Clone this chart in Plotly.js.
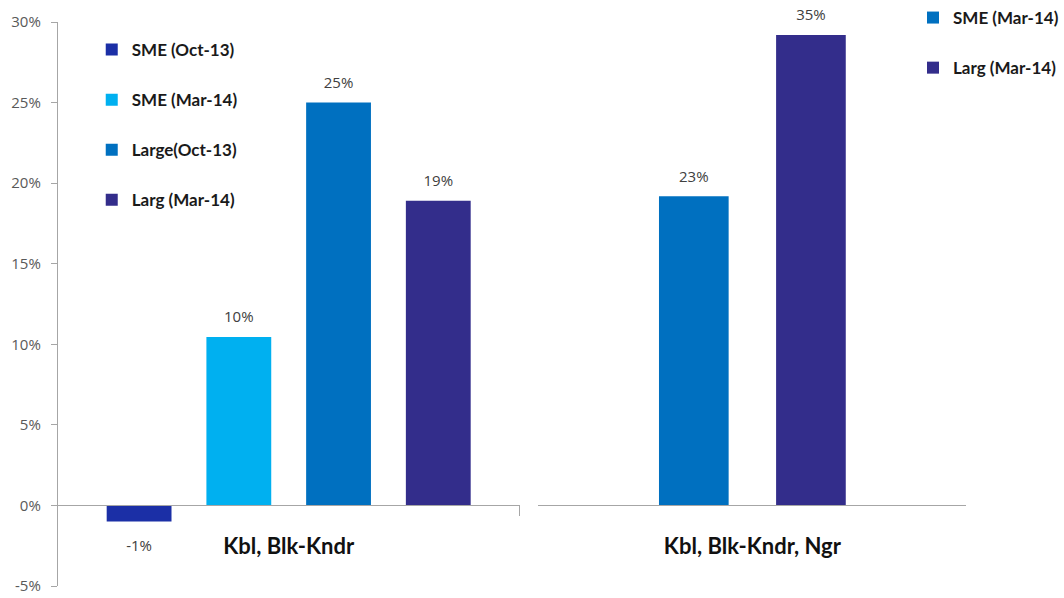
<!DOCTYPE html>
<html><head><meta charset="utf-8">
<script src="https://cdn.plot.ly/plotly-3.0.1.min.js"></script>
<style>html,body{margin:0;padding:0;background:#fff;overflow:hidden}#chart{width:1064px;height:598px;overflow:hidden}</style>
</head><body><div id="chart"></div>
<script>
const leftCategory = ['Kbl, Blk-Kndr'];
const leftSeries = ['SME (Oct-13)', 'SME (Mar-14)', 'Large(Oct-13)', 'Larg (Mar-14)'];
const leftValues = [-1, 10.45, 25, 18.9];
const leftLabels = ['-1%', '10%', '25%', '19%'];
const leftColors = ['#1b2fa6', '#00b0f0', '#0070c0', '#332d8b'];

const rightCategory = ['Kbl, Blk-Kndr, Ngr'];
const rightSeries = ['SME (Mar-14)', 'Larg (Mar-14)'];
const rightValues = [23, 35];
const rightLabels = ['23%', '35%'];
const rightColors = ['#0070c0', '#332d8b'];

const yTickVals = [-5, 0, 5, 10, 15, 20, 25, 30];
const yTickText = ['-5%', '0%', '5%', '10%', '15%', '20%', '25%', '30%'];

const W = 1064, H = 598;
const FONT = 'Lato, "Open Sans", sans-serif';
const NUMFONT = '"Open Sans", Lato, sans-serif';
const GRID = '#a6a6a6';
const labelFont = {family: NUMFONT, size: 15, color: '#404040'};

const traces = [];
function addPanel(cats, names, vals, labels, colors, xa, ya, lg, barWidth) {
  names.forEach((name, i) => {
    const t = {
      type: 'bar', name: name, x: cats, y: [vals[i]],
      marker: {color: colors[i]}, offsetgroup: lg + i,
      xaxis: xa, yaxis: ya, legend: lg, legendgroup: lg + i,
      hoverinfo: 'skip'
    };
    if (barWidth) t.width = barWidth;
    traces.push(t);
  });
  // value labels, grouped at the same slots as the bars
  names.forEach((name, i) => {
    const neg = vals[i] < 0;
    traces.push({
      type: 'scatter', mode: 'markers+text', x: cats, y: [vals[i]],
      text: [labels[i]], textposition: neg ? 'bottom center' : 'top center',
      textfont: labelFont, cliponaxis: false, offsetgroup: lg + i,
      marker: {size: neg ? 27 : 16, opacity: 0, color: colors[i]},
      xaxis: xa, yaxis: ya, showlegend: false, hoverinfo: 'skip'
    });
  });
}
addPanel(leftCategory, leftSeries, leftValues, leftLabels, leftColors, 'x', 'y', 'legend', null);
addPanel(rightCategory, rightSeries, rightValues, rightLabels, rightColors, 'x2', 'y2', 'legend2', 0.257);

// vertical layout (pixels from the top)
const yTop = 22, yBot = 586;
const leftRange = [-5, 30];
const zeroPx = yTop + (leftRange[1] / (leftRange[1] - leftRange[0])) * (yBot - yTop);
const rightTopPx = 35;                      // pixel where the right panel's 35 sits
const rScale = (zeroPx - rightTopPx) / 35;  // px per unit on the right panel
const rightRange = [-(yBot - zeroPx) / rScale, (zeroPx - yTop) / rScale];

const axisPos = (H - zeroPx) / H;
const yDom = [(H - yBot) / H, (H - yTop) / H];
const catFont = {family: FONT, size: 22, color: '#111', weight: 'bold'};
const legFont = {family: FONT, size: 17, color: '#1a1a1a', weight: 'bold'};

const layout = {
  width: W, height: H,
  margin: {l: 0, r: 0, t: 0, b: 0},
  paper_bgcolor: '#fff', plot_bgcolor: 'rgba(0,0,0,0)',
  barmode: 'group', bargap: 0.136, bargroupgap: 0.35,
  scattermode: 'group', scattergap: 0.136,
  showlegend: true,
  xaxis: {
    domain: [58 / W, 521 / W], anchor: 'free', position: axisPos,
    type: 'category', range: [-0.5, 0.5],
    showline: true, linecolor: GRID, linewidth: 1,
    ticks: 'outside', tickson: 'boundaries', ticklen: 10, tickcolor: GRID,
    tickfont: catFont, ticklabelstandoff: 21,
    showgrid: false, zeroline: false, fixedrange: true
  },
  yaxis: {
    domain: yDom, anchor: 'x', range: leftRange,
    tickvals: yTickVals, ticktext: yTickText,
    ticks: 'outside', ticklen: 6, tickcolor: GRID,
    showline: true, linecolor: GRID, linewidth: 1,
    tickfont: {family: NUMFONT, size: 15, color: '#595959'}, ticklabelstandoff: 7,
    ticklabeloverflow: 'allow',
    showgrid: false, zeroline: false, fixedrange: true
  },
  xaxis2: {
    domain: [540 / W, 969 / W], anchor: 'free', position: axisPos,
    type: 'category', range: [-0.789, 0.789],
    showline: true, linecolor: GRID, linewidth: 1, ticks: '',
    tickfont: catFont, ticklabelstandoff: 21,
    showgrid: false, zeroline: false, fixedrange: true
  },
  xaxis3: {
    domain: [540 / W, 969 / W], anchor: 'free', position: axisPos,
    overlaying: 'x2', type: 'linear', range: [0, 1], tickvals: [0, 1],
    ticks: 'outside', ticklen: 10, tickcolor: GRID, showticklabels: false,
    showline: false, showgrid: false, zeroline: false, fixedrange: true
  },
  yaxis2: {
    domain: yDom, anchor: 'x2', range: rightRange, visible: false,
    showgrid: false, zeroline: false, fixedrange: true
  },
  legend: {
    x: 92 / W, y: (H - 32) / H, xanchor: 'left', yanchor: 'top',
    bgcolor: 'rgba(0,0,0,0)', tracegroupgap: 25, font: legFont
  },
  legend2: {
    x: 916 / W, y: 1, xanchor: 'left', yanchor: 'top',
    bgcolor: 'rgba(0,0,0,0)', tracegroupgap: 25, font: legFont
  }
};

Plotly.newPlot('chart', traces, layout, {displayModeBar: false, staticPlot: true});
</script></body></html>
